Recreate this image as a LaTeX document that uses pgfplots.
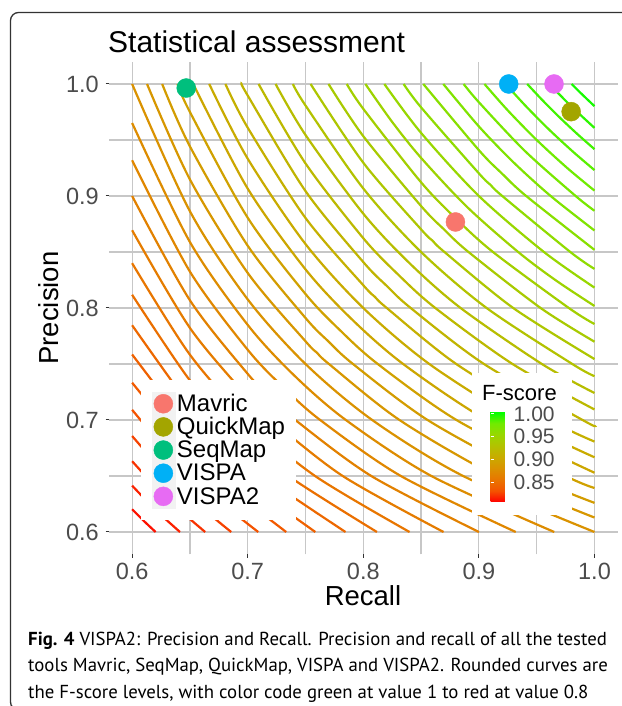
\documentclass[border=0pt]{standalone}
\usepackage{fontspec}
\setmainfont{Liberation Sans}
\newfontfamily\capfont{PT Sans}
\usepackage{pgfplots}
\pgfplotsset{compat=1.18}
\definecolor{s0}{RGB}{255,0,0}
\definecolor{s1}{RGB}{244,83,0}
\definecolor{s2}{RGB}{232,118,0}
\definecolor{s3}{RGB}{218,146,0}
\definecolor{s4}{RGB}{201,171,0}
\definecolor{s5}{RGB}{179,194,0}
\definecolor{s6}{RGB}{152,215,0}
\definecolor{s7}{RGB}{112,235,0}
\definecolor{s8}{RGB}{0,255,0}
\definecolor{cMav}{HTML}{F8766D}
\definecolor{cQM}{HTML}{A3A500}
\definecolor{cSM}{HTML}{00BF7D}
\definecolor{cV}{HTML}{00B0F6}
\definecolor{cV2}{HTML}{E76BF3}
\pgfplotsset{
  colormap={fscore}{rgb255=(255,0,0) rgb255=(244,83,0) rgb255=(232,118,0) rgb255=(218,146,0) rgb255=(201,171,0) rgb255=(179,194,0) rgb255=(152,215,0) rgb255=(112,235,0) rgb255=(0,255,0)},
  cl/.style={line width=2.2pt, smooth, no markers, forget plot},
  pt/.style={only marks, mark=*, mark size=9.5pt},
}
\begin{document}
\begin{tikzpicture}
\path[use as bounding box, fill=white] (0pt,0pt) rectangle (621pt,706pt);
\draw[black!80, line width=1.3pt, rounded corners=8pt] (10.5pt,-4pt) rectangle (650pt,693.5pt);
\begin{axis}[
  at={(109pt,151.6pt)}, anchor=south west,
  scale only axis, width=508.6pt, height=492.8pt,
  xmin=0.58, xmax=1.02, ymin=0.58, ymax=1.02,
  xtick={0.6,0.7,0.8,0.9,1.0}, xticklabels={0.6,0.7,0.8,0.9,1.0},
  ytick={0.6,0.7,0.8,0.9,1.0}, yticklabels={0.6,0.7,0.8,0.9,1.0},
  minor xtick={0.65,0.75,0.85,0.95}, minor ytick={0.65,0.75,0.85,0.95},
  grid=both,
  major grid style={black!22, line width=1.2pt},
  minor grid style={black!22, line width=1.2pt},
  axis line style={draw=none},
  tick align=outside, tick pos=left,
  major tick length=3.5pt, minor tick length=0pt,
  tick style={black!80, line width=1pt},
  xticklabel style={font=\fontsize{23.5}{24}\selectfont, text=black!70, inner sep=0pt, anchor=north, yshift=-4.6pt},
  yticklabel style={font=\fontsize{23.5}{24}\selectfont, text=black!70, inner sep=0pt, anchor=east, xshift=-6.5pt},
  legend cell align=left,
  legend style={at={(axis description cs:0.0621,0.3539)}, anchor=north west,
    draw=none, fill=white, inner xsep=11pt, inner ysep=12pt,
    row sep=0pt, column sep=2pt,
    font=\fontsize{24}{24}\selectfont, nodes={inner sep=0pt}},
  legend image code/.code={\fill[black!5] (0pt,-11.375pt) rectangle (22.75pt,11.375pt);
    \draw[#1] plot coordinates {(11.375pt,0pt)};},
  colormap name=fscore,
  point meta min=0.806, point meta max=1.004,
  colorbar,
  colorbar style={
    at={(482pt,204pt)}, anchor=south west,
    scale only axis, width=18pt, height=90pt,
    ytick={0.85,0.9,0.95,1.0}, yticklabels={0.85,0.90,0.95,1.00},
    yticklabel pos=right, ytick pos=both,
    yticklabel style={font=\fontsize{21}{21}\selectfont, text=black!70, inner sep=0pt, anchor=west, xshift=5pt},
    major tick length=3.6pt, tick align=inside,
    tick style={white, line width=0.8pt},
    axis line style={draw=none},
  },
]
% F-score contour levels
\addplot[cl, color=s0!80!s1] coordinates {(0.6,0.6203)(0.61,0.61)(0.6203,0.6)};
\addplot[cl, color=s0!60!s1] coordinates {(0.6,0.6414)(0.62,0.62)(0.6414,0.6)};
\addplot[cl, color=s0!40!s1] coordinates {(0.6,0.6632)(0.63,0.63)(0.6632,0.6)};
\addplot[cl, color=s0!20!s1] coordinates {(0.6,0.6857)(0.64,0.64)(0.6857,0.6)};
\addplot[cl, color=s1] coordinates {(0.6,0.7091)(0.65,0.65)(0.7091,0.6)};
\addplot[cl, color=s1!80!s2] coordinates {(0.6,0.7333)(0.65,0.6703)(0.66,0.66)(0.6703,0.65)(0.7333,0.6)};
\addplot[cl, color=s1!60!s2] coordinates {(0.6,0.7585)(0.65,0.6913)(0.67,0.67)(0.6913,0.65)(0.7585,0.6)};
\addplot[cl, color=s1!40!s2] coordinates {(0.6,0.7846)(0.65,0.7129)(0.68,0.68)(0.7129,0.65)(0.7846,0.6)};
\addplot[cl, color=s1!20!s2] coordinates {(0.6,0.8118)(0.65,0.7353)(0.69,0.69)(0.7353,0.65)(0.8118,0.6)};
\addplot[cl, color=s2] coordinates {(0.6,0.84)(0.65,0.7583)(0.7,0.7)(0.7583,0.65)(0.84,0.6)};
\addplot[cl, color=s2!80!s3] coordinates {(0.6,0.8694)(0.65,0.7822)(0.7,0.7203)(0.71,0.71)(0.7203,0.7)(0.7822,0.65)(0.8694,0.6)};
\addplot[cl, color=s2!60!s3] coordinates {(0.6,0.9)(0.65,0.8069)(0.7,0.7412)(0.72,0.72)(0.7412,0.7)(0.8069,0.65)(0.9,0.6)};
\addplot[cl, color=s2!40!s3] coordinates {(0.6,0.9319)(0.65,0.8325)(0.7,0.7627)(0.73,0.73)(0.7627,0.7)(0.8325,0.65)(0.9319,0.6)};
\addplot[cl, color=s2!20!s3] coordinates {(0.6,0.9652)(0.65,0.8589)(0.7,0.7849)(0.74,0.74)(0.7849,0.7)(0.8589,0.65)(0.9652,0.6)};
\addplot[cl, color=s3] coordinates {(0.6,1)(0.65,0.8864)(0.7,0.8077)(0.75,0.75)(0.8077,0.7)(0.8864,0.65)(1,0.6)};
\addplot[cl, color=s3!80!s4] coordinates {(0.6129,1)(0.65,0.9148)(0.7,0.8313)(0.75,0.7703)(0.76,0.76)(0.7703,0.75)(0.8313,0.7)(0.9148,0.65)(1,0.6129)};
\addplot[cl, color=s3!60!s4] coordinates {(0.626,1)(0.65,0.9443)(0.7,0.8556)(0.75,0.7911)(0.77,0.77)(0.7911,0.75)(0.8556,0.7)(0.9443,0.65)(1,0.626)};
\addplot[cl, color=s3!40!s4] coordinates {(0.6393,1)(0.65,0.975)(0.7,0.8806)(0.75,0.8125)(0.78,0.78)(0.8125,0.75)(0.8806,0.7)(0.975,0.65)(1,0.6393)};
\addplot[cl, color=s3!20!s4] coordinates {(0.6529,1)(0.7,0.9066)(0.75,0.8345)(0.79,0.79)(0.8345,0.75)(0.9066,0.7)(1,0.6529)};
\addplot[cl, color=s4] coordinates {(0.6667,1)(0.7,0.9333)(0.75,0.8571)(0.8,0.8)(0.8571,0.75)(0.9333,0.7)(1,0.6667)};
\addplot[cl, color=s4!80!s5] coordinates {(0.6807,1)(0.7,0.961)(0.75,0.8804)(0.8,0.8203)(0.81,0.81)(0.8203,0.8)(0.8804,0.75)(0.961,0.7)(1,0.6807)};
\addplot[cl, color=s4!60!s5] coordinates {(0.6949,1)(0.7,0.9897)(0.75,0.9044)(0.8,0.841)(0.82,0.82)(0.841,0.8)(0.9044,0.75)(0.9897,0.7)(1,0.6949)};
\addplot[cl, color=s4!40!s5] coordinates {(0.7094,1)(0.75,0.9291)(0.8,0.8623)(0.83,0.83)(0.8623,0.8)(0.9291,0.75)(1,0.7094)};
\addplot[cl, color=s4!20!s5] coordinates {(0.7241,1)(0.75,0.9545)(0.8,0.8842)(0.84,0.84)(0.8842,0.8)(0.9545,0.75)(1,0.7241)};
\addplot[cl, color=s5] coordinates {(0.7391,1)(0.75,0.9808)(0.8,0.9067)(0.85,0.85)(0.9067,0.8)(0.9808,0.75)(1,0.7391)};
\addplot[cl, color=s5!80!s6] coordinates {(0.7544,1)(0.8,0.9297)(0.85,0.8702)(0.86,0.86)(0.8702,0.85)(0.9297,0.8)(1,0.7544)};
\addplot[cl, color=s5!60!s6] coordinates {(0.7699,1)(0.8,0.9534)(0.85,0.891)(0.87,0.87)(0.891,0.85)(0.9534,0.8)(1,0.7699)};
\addplot[cl, color=s5!40!s6] coordinates {(0.7857,1)(0.8,0.9778)(0.85,0.9122)(0.88,0.88)(0.9122,0.85)(0.9778,0.8)(1,0.7857)};
\addplot[cl, color=s5!20!s6] coordinates {(0.8018,1)(0.825,0.9661)(0.85,0.934)(0.89,0.89)(0.934,0.85)(0.9661,0.825)(1,0.8018)};
\addplot[cl, color=s6] coordinates {(0.8182,1)(0.85,0.9563)(0.9,0.9)(0.9563,0.85)(1,0.8182)};
\addplot[cl, color=s6!80!s7] coordinates {(0.8349,1)(0.85,0.9791)(0.9,0.9202)(0.91,0.91)(0.9202,0.9)(0.9791,0.85)(1,0.8349)};
\addplot[cl, color=s6!60!s7] coordinates {(0.8519,1)(0.9,0.9409)(0.92,0.92)(0.9409,0.9)(1,0.8519)};
\addplot[cl, color=s6!40!s7] coordinates {(0.8692,1)(0.9,0.9621)(0.93,0.93)(0.9621,0.9)(1,0.8692)};
\addplot[cl, color=s6!20!s7] coordinates {(0.8868,1)(0.9,0.9837)(0.94,0.94)(0.9837,0.9)(1,0.8868)};
\addplot[cl, color=s7] coordinates {(0.9048,1)(0.925,0.9764)(0.95,0.95)(0.9764,0.925)(1,0.9048)};
\addplot[cl, color=s7!80!s8] coordinates {(0.9231,1)(0.94,0.9809)(0.96,0.96)(0.9809,0.94)(1,0.9231)};
\addplot[cl, color=s7!60!s8] coordinates {(0.9418,1)(0.955,0.9855)(0.97,0.97)(0.9855,0.955)(1,0.9418)};
\addplot[cl, color=s7!40!s8] coordinates {(0.9608,1)(0.98,0.98)(1,0.9608)};
\addplot[cl, color=s7!20!s8] coordinates {(0.9802,1)(0.99,0.99)(1,0.9802)};
% white box behind the colour key
\fill[white] (axis cs:0.8941,0.6152) rectangle (axis cs:0.9806,0.7420);
% tools
\addplot[pt, color=cMav] coordinates {(0.8797,0.8768)};
\addlegendentry{Mavric}
\addplot[pt, color=cQM] coordinates {(0.9798,0.9753)};
\addlegendentry{QuickMap}
\addplot[pt, color=cSM] coordinates {(0.6468,0.9964)};
\addlegendentry{SeqMap}
\addplot[pt, color=cV] coordinates {(0.9258,1.0)};
\addlegendentry{VISPA}
\addplot[pt, color=cV2] coordinates {(0.965,1.0)};
\addlegendentry{VISPA2}
\end{axis}
\node[anchor=base west, inner sep=0pt, font=\fontsize{30}{30}\selectfont] at (108pt,653pt) {Statistical assessment};
\node[anchor=base, inner sep=0pt, rotate=90, font=\fontsize{27.5}{28}\selectfont] at (58pt,398pt) {Precision};
\node[anchor=base, inner sep=0pt, font=\fontsize{27.5}{28}\selectfont] at (363pt,100pt) {Recall};
\node[anchor=base west, inner sep=0pt, font=\fontsize{22}{22}\selectfont] at (482pt,305pt) {F-score};
\node[anchor=base west, inner sep=0pt, font=\capfont\fontsize{18.8}{20}\selectfont] at (28pt,60pt) {\textbf{Fig. 4} VISPA2: Precision and Recall. Precision and recall of all the tested};
\node[anchor=base west, inner sep=0pt, font=\capfont\fontsize{18.8}{20}\selectfont] at (28pt,34pt) {tools Mavric, SeqMap, QuickMap, VISPA and VISPA2. Rounded curves are};
\node[anchor=base west, inner sep=0pt, font=\capfont\fontsize{18.8}{20}\selectfont] at (28pt,8pt) {the F-score levels, with color code green at value 1 to red at value 0.8};
\end{tikzpicture}
\end{document}
